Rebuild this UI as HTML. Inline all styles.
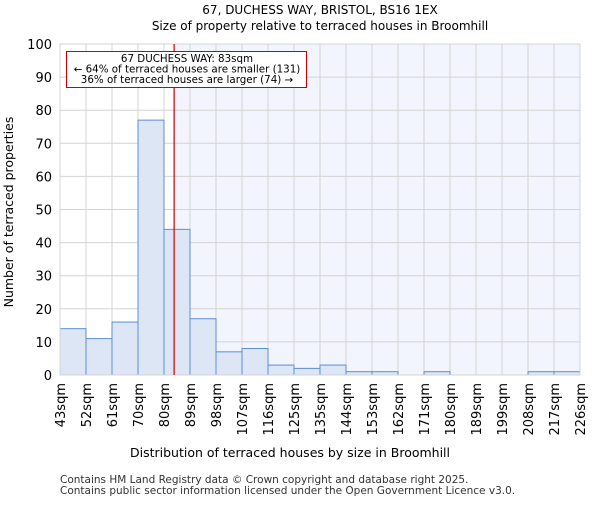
<!DOCTYPE html>
<html><head><meta charset="utf-8"><style>
body{margin:0;background:#fff}
svg{font-family:"DejaVu Sans","Liberation Sans",sans-serif}
</style></head><body>
<svg id="chart" width="600" height="500">
<text x="320" y="14" text-anchor="middle" font-size="12">67, DUCHESS WAY, BRISTOL, BS16 1EX</text>
<text x="320" y="30" text-anchor="middle" font-size="12">Size of property relative to terraced houses in Broomhill</text>
<g id="plot"></g>
<text x="290" y="457" text-anchor="middle" font-size="12.5">Distribution of terraced houses by size in Broomhill</text>
<text transform="translate(13,212) rotate(-90)" text-anchor="middle" font-size="12.5">Number of terraced properties</text>
<text x="60" y="483" font-size="10.5" fill="#333">Contains HM Land Registry data © Crown copyright and database right 2025.</text>
<text x="60" y="494" font-size="10.5" fill="#333">Contains public sector information licensed under the Open Government Licence v3.0.</text>
</svg>
<script>
const binLabels=["43sqm","52sqm","61sqm","70sqm","80sqm","89sqm","98sqm","107sqm","116sqm","125sqm","135sqm","144sqm","153sqm","162sqm","171sqm","180sqm","189sqm","199sqm","208sqm","217sqm","226sqm"];
const binEdges=[43,52,61,70,80,89,98,107,116,125,135,144,153,162,171,180,189,199,208,217,226];
const counts=[14,11,16,77,44,17,7,8,3,2,3,1,1,0,1,0,0,0,1,1];
const yTicks=[0,10,20,30,40,50,60,70,80,90,100];
const subjectSize=83.5;
const L=60,R=580,T=44,B=375,yMax=100;
const NS="http://www.w3.org/2000/svg";
const g=document.getElementById('plot');
const bw=(R-L)/counts.length;
function xi(i){return L+i*bw;}
function xv(v){for(let i=0;i<binEdges.length-1;i++){if(v<=binEdges[i+1])return xi(i)+bw*(v-binEdges[i])/(binEdges[i+1]-binEdges[i]);}return R;}
function y(v){return B-(B-T)*v/yMax;}
function mk(t,a){const e=document.createElementNS(NS,t);for(const k in a)e.setAttribute(k,a[k]);g.appendChild(e);return e;}
const sx=xv(subjectSize);
let e=mk('rect',{x:sx,y:T,width:R-sx,height:B-T,fill:'#f2f5fd'});


yTicks.forEach(t=>{let l=mk('line',{x1:L,x2:R,y1:y(t),y2:y(t),stroke:'#d4d4d4','stroke-width':1});


let tx=mk('text',{x:L-8,y:y(t)+5,'text-anchor':'end','font-size':13});tx.textContent=t;

});
binLabels.forEach((s,i)=>{let l=mk('line',{x1:xi(i),x2:xi(i),y1:T,y2:B,stroke:'#d4d4d4','stroke-width':1});


let tx=mk('text',{transform:`translate(${xi(i)+5},${B+8}) rotate(-90)`,'text-anchor':'end','font-size':13});tx.textContent=s;

});
counts.forEach((c,i)=>{if(c<=0)return;let r=mk('rect',{x:xi(i),y:y(c),width:bw,height:B-y(c),fill:'#dce6f5',stroke:'#5b8ed6','stroke-width':1});

});
let ax=mk('rect',{x:L,y:T,width:R-L,height:B-T,fill:'none',stroke:'#d4d4d4'});


let rl=mk('line',{x1:sx,x2:sx,y1:T,y2:B,stroke:'#cc0000','stroke-width':1.2});


let box=mk('rect',{x:66.5,y:51.5,width:240,height:36,fill:'#fff',stroke:'#cc0000','stroke-width':1});


["67 DUCHESS WAY: 83sqm","← 64% of terraced houses are smaller (131)","36% of terraced houses are larger (74) →"].forEach((s,i)=>{
let t=mk('text',{x:187,y:62+i*10.5,'text-anchor':'middle','font-size':10.3});t.textContent=s;

});
</script>
</body></html>
